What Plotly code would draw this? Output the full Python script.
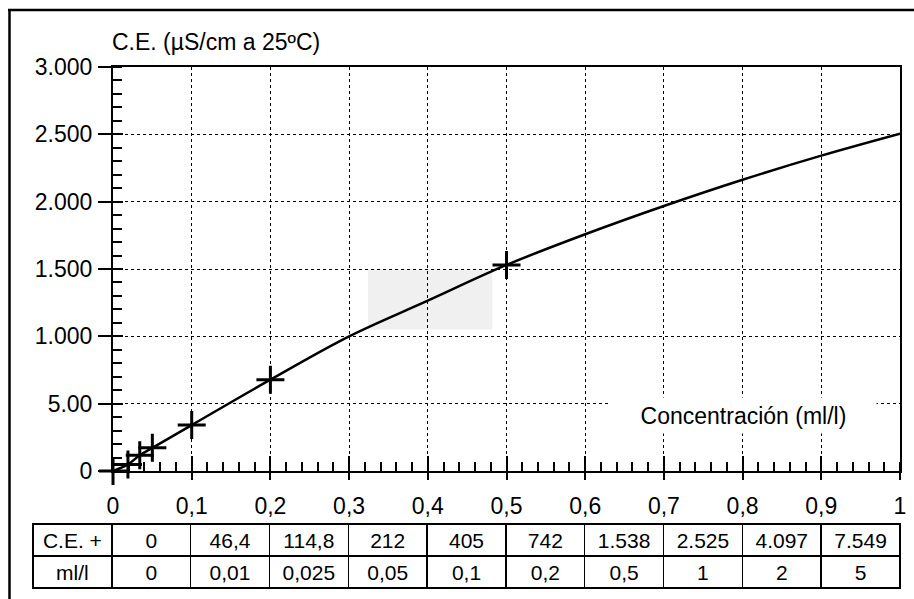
import plotly.graph_objects as go

# ---- data ----
conc_curve = [0, 0.019, 0.034, 0.05, 0.1, 0.2, 0.3, 0.4, 0.5, 0.6, 0.7, 0.8, 0.9, 1.0]
ce_curve = [0, 49, 117, 172, 341, 678, 1000, 1265, 1530, 1758, 1968, 2163, 2342, 2505]

conc_points = [0, 0.019, 0.034, 0.05, 0.1, 0.2, 0.5]
ce_points = [0, 49, 117, 172, 341, 678, 1530]

y_tickvals = [0, 500, 1000, 1500, 2000, 2500, 3000]
y_ticktext = ["0", "5.00", "1.000", "1.500", "2.000", "2.500", "3.000"]
x_tickvals = [0, 0.1, 0.2, 0.3, 0.4, 0.5, 0.6, 0.7, 0.8, 0.9, 1.0]
x_ticktext = ["0", "0,1", "0,2", "0,3", "0,4", "0,5", "0,6", "0,7", "0,8", "0,9", "1"]

table_ce = ["C.E.\u00a0+", "0", "46,4", "114,8", "212", "405", "742", "1.538", "2.525", "4.097", "7.549"]
table_ml = ["ml/l", "0", "0,01", "0,025", "0,05", "0,1", "0,2", "0,5", "1", "2", "5"]

FONT = "Liberation Sans, Arial, Helvetica, sans-serif"

W, H = 914, 599
ML, MR, MT, MB = 30, 10, 20, 5
PW, PH = W - ML - MR, H - MT - MB


def px(xs):
    """screen x pixel -> paper fraction"""
    return (xs - ML) / PW


def py(ys):
    """screen y pixel -> paper fraction"""
    return (H - MB - ys) / PH


fig = go.Figure()

fig.add_trace(go.Scatter(
    x=conc_curve, y=ce_curve, mode="lines",
    line=dict(color="black", width=2.5, shape="spline", smoothing=1.0),
    hoverinfo="skip", showlegend=False))

fig.add_trace(go.Scatter(
    x=conc_points, y=ce_points, mode="markers",
    marker=dict(symbol="cross-thin", size=20, color="black",
                line=dict(color="black", width=3)),
    cliponaxis=False, showlegend=False))

# empty trace bound to the overlay axes (extra tick marks)
fig.add_trace(go.Scatter(x=[], y=[], xaxis="x2", yaxis="y2", showlegend=False))

fig.add_trace(go.Table(
    domain=dict(x=[px(33), px(900)], y=[py(590), py(524)]),
    columnwidth=[1] * len(table_ce),
    header=dict(values=table_ce, align="center", height=32,
                fill_color="white", line=dict(color="black", width=1.5),
                font=dict(family=FONT, size=21, color="black")),
    cells=dict(values=[[v] for v in table_ml], align="center", height=32,
               fill_color="white", line=dict(color="black", width=1.5),
               font=dict(family=FONT, size=21, color="black")),
))

xdom = [px(113), px(900)]
ydom = [py(471), py(67)]

fig.update_layout(
    width=W, height=H,
    margin=dict(l=ML, r=MR, t=MT, b=MB, pad=0, autoexpand=False),
    paper_bgcolor="white", plot_bgcolor="white",
    font=dict(family=FONT, size=23, color="black"),
    showlegend=False,
    xaxis=dict(
        domain=xdom, range=[0, 1], anchor="y", automargin=False,
        tickvals=x_tickvals, ticktext=x_ticktext,
        ticks="outside", ticklen=7, tickwidth=2, tickcolor="black",
        ticklabelstandoff=6,
        tickfont=dict(family=FONT, size=23, color="black"),
        showline=True, linewidth=2, linecolor="black", mirror=True,
        showgrid=True, gridcolor="black", gridwidth=1, griddash="dot",
        zeroline=False,
        minor=dict(dtick=0.02, tick0=0, ticks="inside", ticklen=9,
                   tickwidth=1.5, tickcolor="black", showgrid=False),
    ),
    yaxis=dict(
        domain=ydom, range=[0, 3000], anchor="x", automargin=False,
        tickvals=y_tickvals, ticktext=y_ticktext,
        ticks="outside", ticklen=13, tickwidth=2, tickcolor="black",
        ticklabelstandoff=1,
        tickfont=dict(family=FONT, size=23, color="black"),
        showline=True, linewidth=2, linecolor="black", mirror=True,
        showgrid=True, gridcolor="black", gridwidth=1, griddash="dot",
        zeroline=False,
        minor=dict(dtick=100, tick0=0, ticks="inside", ticklen=9,
                   tickwidth=1.5, tickcolor="black", showgrid=False),
    ),
    xaxis2=dict(
        domain=xdom, range=[0, 1], overlaying="x", anchor="y", automargin=False,
        tickvals=x_tickvals, showticklabels=False,
        ticks="inside", ticklen=15, tickwidth=2, tickcolor="black",
        showline=False, showgrid=False, zeroline=False,
    ),
    yaxis2=dict(
        domain=ydom, range=[0, 3000], overlaying="y", anchor="x", automargin=False,
        tickvals=y_tickvals, showticklabels=False,
        ticks="inside", ticklen=10, tickwidth=2, tickcolor="black",
        showline=False, showgrid=False, zeroline=False,
    ),
)

# faint grey scan patch behind the curve
fig.add_shape(type="rect", xref="x", yref="y", x0=0.324, x1=0.482, y0=1050, y1=1500,
              fillcolor="#f0f0f0", line=dict(width=0), layer="below")

# outer frame (top and left edges visible)
fig.add_shape(type="line", xref="paper", yref="paper",
              x0=px(8), x1=px(930), y0=py(10), y1=py(10),
              line=dict(color="black", width=2.5))
fig.add_shape(type="line", xref="paper", yref="paper",
              x0=px(9.5), x1=px(9.5), y0=py(10), y1=py(620),
              line=dict(color="black", width=2.5))

# axis titles
fig.add_annotation(text="C.E. (µS/cm a 25ºC)", xref="paper", yref="paper",
                   x=px(110), y=py(42), xanchor="left", yanchor="middle",
                   showarrow=False, font=dict(family=FONT, size=23, color="black"))
fig.add_annotation(text="Concentración (ml/l)", xref="paper", yref="paper",
                   x=px(743.5), y=py(415.5), xanchor="center", yanchor="middle",
                   width=263, height=33, borderpad=1, bgcolor="white",
                   showarrow=False, font=dict(family=FONT, size=23, color="black"))

fig.write_html(
    "out.html",
    post_script="document.body.style.margin='0';document.body.style.overflow='hidden';",
    config={"displayModeBar": False},
)
